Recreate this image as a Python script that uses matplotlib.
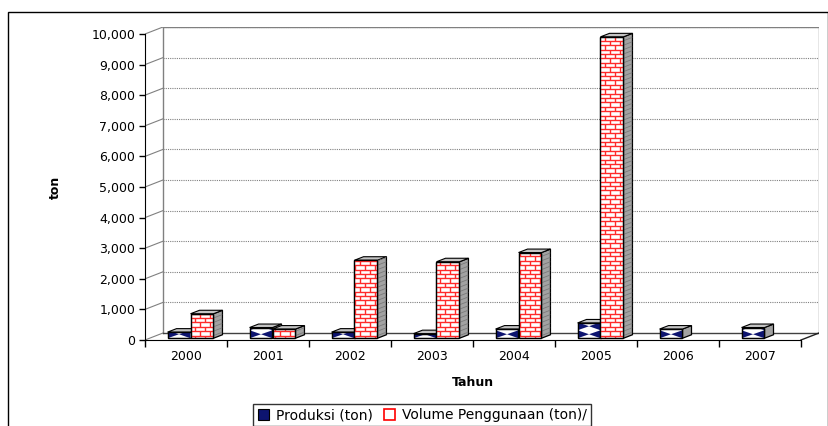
import numpy as np
import matplotlib
matplotlib.use('Agg')
import matplotlib.pyplot as plt
from matplotlib.patches import Polygon, Rectangle, Patch
from matplotlib.collections import LineCollection, PolyCollection

plt.rcParams['font.family'] = ['DejaVu Sans']

# data
years = ['2000', '2001', '2002', '2003', '2004', '2005', '2006', '2007']
produksi = [200, 350, 200, 150, 300, 500, 300, 350]
volume = [800, 300, 2550, 2500, 2800, 9850, 0, 0]
series_names = ['Produksi (ton)', 'Volume Penggunaan (ton)/']
yticks = [0, 1000, 2000, 3000, 4000, 5000, 6000, 7000, 8000, 9000, 10000]

W, H = 829, 426
fig = plt.figure(figsize=(W / 100, H / 100), dpi=100)

# axes box in pixels (front axis + back wall)
px_left, px_right, px_bottom, px_top = 145, 819, 340, 27
aw, ah = px_right - px_left, px_bottom - px_top
ax = fig.add_axes([px_left / W, (H - px_bottom) / H, aw / W, ah / H])

n = len(years)
ymax = yticks[-1]
px_per_cat = 82.0
px_per_val = 30.6 / 1000
ux = 1 / px_per_cat           # one pixel in category units
uy = 1 / px_per_val           # one pixel in value units
DX = 18 * ux                  # wall depth
DY = 7 * uy
ax.set_xlim(0, n + DX)
ax.set_ylim(0, ymax + DY)

navy = '#0d1470'
red = '#ff2a2a'

# --- walls and grid ---
grid_col = '#808080'
for v in yticks:
    if v > 0:
        ax.plot([DX, n + DX], [v + DY, v + DY], color=grid_col, lw=0.8,
                ls=(0, (1, 1)), zorder=1)
    ax.plot([0, DX], [v, v + DY], color=grid_col, lw=0.8, zorder=1)
ax.plot([DX, DX], [DY, ymax + DY], color=grid_col, lw=1, zorder=1)
ax.plot([n + DX, n + DX], [DY, ymax + DY], color=grid_col, lw=1, zorder=1)
ax.plot([DX, n + DX], [ymax + DY, ymax + DY], color=grid_col, lw=1, zorder=1)
ax.plot([DX, n + DX], [DY, DY], color='#404040', lw=1, zorder=1)
ax.plot([n, n + DX], [0, DY], color='#202020', lw=1, zorder=1)


def brick_lines(x0, x1, y0, y1, row_h, brick_w):
    segs = []
    k0 = int(np.floor(y0 / row_h))
    k1 = int(np.ceil(y1 / row_h))
    for k in range(k0, k1 + 1):
        yb, yt = k * row_h, (k + 1) * row_h
        segs.append([(x0, yb), (x1, yb)])
        off = (k % 2) * brick_w / 2
        m0 = int(np.floor((x0 - off) / brick_w))
        m1 = int(np.ceil((x1 - off) / brick_w))
        for m in range(m0, m1 + 1):
            xv = m * brick_w + off
            if x0 < xv < x1:
                segs.append([(xv, yb), (xv, yt)])
    return segs


def bowtie_tiles(x0, x1, y0, y1, th):
    # one bow-tie across the bar width, repeated upwards
    polys = []
    c = y0
    while c < y1:
        d = c + th
        xc, yc = (x0 + x1) / 2, (c + d) / 2
        polys.append([(x0, c), (x0, d), (xc, yc)])
        polys.append([(x1, c), (x1, d), (xc, yc)])
        c = d
    return polys


# --- 3D bars ---
bw = 0.28
f0 = 0.25
bdx, bdy = 0.5 * DX, 0.5 * DY
row_h = 4.4 * uy
z = 3
for i in range(n):
    for s, vals in enumerate([produksi, volume]):
        v = vals[i]
        if v <= 0:
            continue
        x0 = i + 0.5 - bw + s * bw + f0 * DX
        y0 = f0 * DY
        side = Polygon([(x0 + bw, y0), (x0 + bw + bdx, y0 + bdy),
                        (x0 + bw + bdx, y0 + v + bdy), (x0 + bw, y0 + v)],
                       closed=True, facecolor='#a2a2a2', edgecolor='black',
                       lw=0.9, zorder=z + 0.1)
        top = Polygon([(x0, y0 + v), (x0 + bw, y0 + v),
                       (x0 + bw + bdx, y0 + v + bdy), (x0 + bdx, y0 + v + bdy)],
                      closed=True, facecolor='#c4c4c4', edgecolor='black',
                      lw=0.8, zorder=z + 0.1)
        ax.add_patch(side)
        ax.add_patch(top)
        bar = ax.bar(x0, v, width=bw, bottom=y0, align='edge',
                     facecolor='white', edgecolor='black', lw=0.9,
                     zorder=z + 0.2)[0]
        if s == 1:
            pat = LineCollection(brick_lines(x0, x0 + bw, y0, y0 + v,
                                             row_h, 10 * ux),
                                 colors=red, linewidths=1.0, zorder=z + 0.3)
            # faint brick courses on the grey side face
            ks = range(int(np.ceil(y0 / row_h)), int((y0 + v) / row_h) + 1)
            side_pat = LineCollection(
                [[(x0 + bw, k * row_h), (x0 + bw + bdx, k * row_h + bdy)]
                 for k in ks],
                colors='#7a7a7a', linewidths=0.6, zorder=z + 0.15)
            ax.add_collection(side_pat)
            side_pat.set_clip_path(side)
        else:
            pat = PolyCollection(bowtie_tiles(x0, x0 + bw, y0, y0 + v,
                                              8 * uy),
                                 facecolors=navy, edgecolors='none',
                                 zorder=z + 0.3)
        ax.add_collection(pat)
        pat.set_clip_path(bar)
        # redraw the outline on top of the pattern
        ax.add_patch(Rectangle((x0, y0), bw, v, fill=False, edgecolor='black',
                               lw=0.9, zorder=z + 0.4))
        z += 1

ax.set_xlim(0, n + DX)
ax.set_ylim(0, ymax + DY)

# --- axes / ticks ---
for sp in ['top', 'right']:
    ax.spines[sp].set_visible(False)
ax.spines['left'].set_bounds(0, ymax)
ax.spines['bottom'].set_bounds(0, n)
ax.spines['left'].set_zorder(50)
ax.spines['bottom'].set_zorder(50)
ax.set_yticks(yticks)
ax.set_yticklabels([f'{v:,}' for v in yticks])
ax.set_xticks([i + 0.5 for i in range(n)])
ax.set_xticklabels(years)
ax.set_xticks(list(range(n + 1)), minor=True)
ax.tick_params(axis='x', which='major', length=0, pad=7, labelsize=9)
ax.tick_params(axis='x', which='minor', length=5, width=1, direction='out')
ax.tick_params(axis='y', length=4, width=1, direction='out', pad=3,
               labelsize=9)

ax.set_ylabel('ton', fontsize=9, fontweight='bold')
ax.yaxis.set_label_coords((62 - px_left) / aw, (px_bottom - 187) / ah)
ax.set_xlabel('Tahun', fontsize=9, fontweight='bold')
ax.xaxis.set_label_coords((473 - px_left) / aw, (px_bottom - 376) / ah)

# --- legend ---
handles = [Patch(facecolor=navy, edgecolor='black', lw=0.8),
           Patch(facecolor='white', edgecolor='red', lw=1.2)]
leg = fig.legend(handles, series_names, loc='upper center', ncol=2,
                 bbox_to_anchor=(422 / W, 1 - 404 / H), frameon=True,
                 fancybox=False, fontsize=10, handlelength=0.8,
                 handleheight=0.8, handletextpad=0.5, columnspacing=0.8,
                 borderpad=0.3, borderaxespad=0)
leg.get_frame().set_edgecolor('black')
leg.get_frame().set_linewidth(1)

# outer chart frame
fig.patches.append(Rectangle((8 / W, -0.1), (828 - 8) / W, 1.1 - 12 / H,
                             transform=fig.transFigure, fill=False,
                             edgecolor='black', lw=1))

fig.savefig('out.png', dpi=100)
